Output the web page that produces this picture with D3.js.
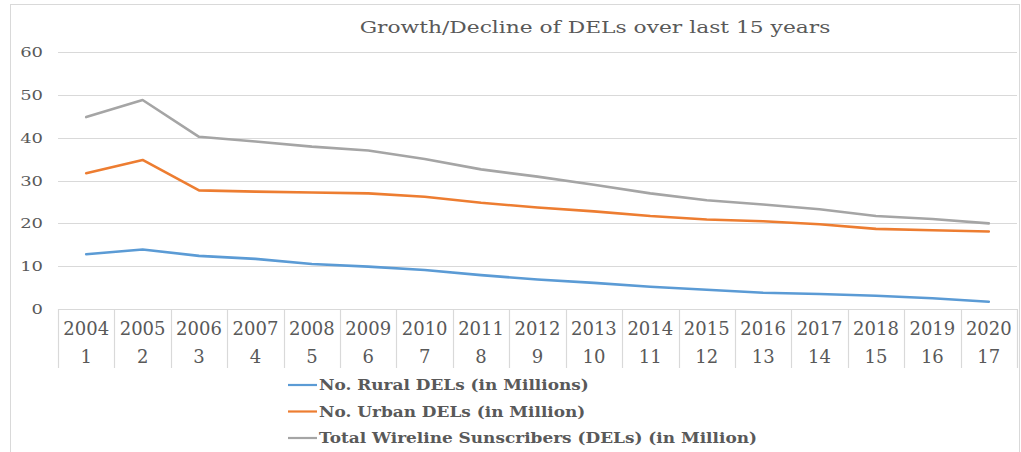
<!DOCTYPE html>
<html>
<head>
<meta charset="utf-8">
<script src="https://cdn.jsdelivr.net/npm/d3@7"></script>
<style>
  html, body { margin: 0; padding: 0; background: #fff; }
  svg { display: block; }
</style>
</head>
<body>
<svg id="chart" width="1021" height="452"></svg>
<script>
const years = ["2004","2005","2006","2007","2008","2009","2010","2011","2012","2013","2014","2015","2016","2017","2018","2019","2020"];
const indexLabels = ["1","2","3","4","5","6","7","8","9","10","11","12","13","14","15","16","17"];
const rural = [12.8, 13.9, 12.4, 11.7, 10.5, 9.9, 9.1, 7.9, 6.9, 6.1, 5.2, 4.5, 3.8, 3.5, 3.1, 2.5, 1.7];
const urban = [31.7, 34.8, 27.7, 27.4, 27.2, 27.0, 26.2, 24.8, 23.7, 22.8, 21.7, 20.9, 20.5, 19.8, 18.7, 18.4, 18.1];
const total = [44.8, 48.8, 40.2, 39.1, 37.9, 37.0, 35.0, 32.6, 30.9, 29.0, 27.0, 25.4, 24.4, 23.3, 21.7, 21.0, 20.0];
const seriesNames = ["No. Rural DELs (in Millions)", "No. Urban DELs (in Million)", "Total Wireline Sunscribers (DELs) (in Million)"];
const yTicks = [0, 10, 20, 30, 40, 50, 60];
const chartTitle = "Growth/Decline of DELs over last 15 years";

(function () {
const colors = ["#5B9BD5", "#ED7D31", "#A5A5A5"];
const series = [rural, urban, total];

const svg = d3.select("#chart");
const font = "'DejaVu Serif', serif";

// outer border
svg.append("rect")
  .attr("x", 10.5).attr("y", 4.5).attr("width", 1009).attr("height", 470)
  .attr("fill", "none").attr("stroke", "#d9d9d9").attr("stroke-width", 1);

const pLeft = 58, pRight = 1017, pTop = 52, pBottom = 309;
const x = d3.scaleBand().domain(years).range([pLeft, pRight]).padding(0);
const y = d3.scaleLinear().domain([0, 60]).range([pBottom, pTop]);

// gridlines
svg.append("g").selectAll("line").data(yTicks).join("line")
  .attr("x1", pLeft).attr("x2", pRight)
  .attr("y1", d => Math.round(y(d)) + 0.5).attr("y2", d => Math.round(y(d)) + 0.5)
  .attr("stroke", "#d9d9d9").attr("stroke-width", 1.2);

// y tick labels (wide serif look via horizontal stretch)
svg.append("g").selectAll("g").data(yTicks).join("g")
  .attr("transform", d => `translate(43,${y(d) + 5}) scale(1.33,1)`)
  .append("text")
  .attr("text-anchor", "end")
  .attr("font-family", font).attr("font-size", 13.5)
  .attr("fill", "#595959")
  .text(d => d);

// category table separators
const bounds = years.map(d => x(d)).concat([pRight]);
svg.append("g").selectAll("line").data(bounds).join("line")
  .attr("x1", d => Math.round(d) + 0.5).attr("x2", d => Math.round(d) + 0.5)
  .attr("y1", pBottom).attr("y2", 368)
  .attr("stroke", "#d9d9d9").attr("stroke-width", 1.2);

// year labels
svg.append("g").selectAll("text").data(years).join("text")
  .attr("x", d => x(d) + x.bandwidth() / 2).attr("y", 335)
  .attr("text-anchor", "middle")
  .attr("font-family", font).attr("font-size", 18)
  .attr("fill", "#595959")
  .text(d => d);

svg.append("g").selectAll("text").data(indexLabels).join("text")
  .attr("x", (d, i) => x(years[i]) + x.bandwidth() / 2).attr("y", 362.5)
  .attr("text-anchor", "middle")
  .attr("font-family", font).attr("font-size", 18)
  .attr("fill", "#595959")
  .text(d => d);

// lines
const line = d3.line()
  .x((d, i) => x(years[i]) + x.bandwidth() / 2)
  .y(d => y(d));

series.forEach((s, k) => {
  svg.append("path")
    .datum(s)
    .attr("d", line)
    .attr("fill", "none")
    .attr("stroke", colors[k])
    .attr("stroke-width", 2.6)
    .attr("stroke-linejoin", "round")
    .attr("stroke-linecap", "round");
});

// title
svg.append("g")
  .attr("transform", "translate(595,32.5) scale(1.32,1)")
  .append("text")
  .attr("text-anchor", "middle")
  .attr("font-family", font).attr("font-size", 16.5)
  .attr("fill", "#595959")
  .text(chartTitle);

// legend
const legendY = [385, 411.5, 438];
const lg = svg.append("g");
seriesNames.forEach((name, k) => {
  lg.append("line")
    .attr("x1", 288).attr("x2", 317)
    .attr("y1", legendY[k]).attr("y2", legendY[k])
    .attr("stroke", colors[k]).attr("stroke-width", 2.2);
  lg.append("g")
    .attr("transform", `translate(319,${legendY[k] + 5}) scale(1.21,1)`)
    .append("text")
    .attr("font-family", font).attr("font-size", 14).attr("font-weight", "bold")
    .attr("fill", "#595959")
    .text(name);
});
})();
</script>
</body>
</html>
